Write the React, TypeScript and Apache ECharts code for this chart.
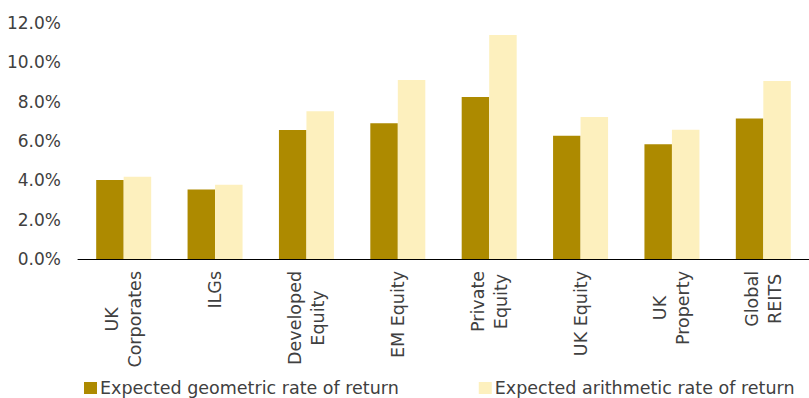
import React, { useEffect, useRef } from "react";
import * as echarts from "echarts";

const categories = [
  "UK\nCorporates",
  "ILGs",
  "Developed\nEquity",
  "EM Equity",
  "Private\nEquity",
  "UK Equity",
  "UK\nProperty",
  "Global\nREITS",
];
const geometricReturn = [4.02, 3.54, 6.56, 6.9, 8.24, 6.27, 5.83, 7.15];
const arithmeticReturn = [4.18, 3.78, 7.51, 9.1, 11.39, 7.22, 6.57, 9.05];
const seriesNames = ["Expected geometric rate of return", "Expected arithmetic rate of return"];
const yTicks = { min: 0, max: 12, interval: 2 };

const FONT = "'DejaVu Sans', 'Liberation Sans', Arial, sans-serif";
const TEXT = "#404040";

export default function App() {
  const ref = useRef<HTMLDivElement>(null);
  useEffect(() => {
    document.body.style.margin = "0";
    if (!ref.current) return;
    const chart = echarts.init(ref.current, null, { renderer: "svg" });
    chart.setOption({
      animation: false,
      grid: { left: 78, right: -6, top: 23, bottom: 139, containLabel: false },
      legend: {
        show: true,
        left: 84,
        top: 379,
        padding: 0,
        itemWidth: 13,
        itemHeight: 12,
        itemGap: 80,
        icon: "rect",
        textStyle: { fontFamily: FONT, fontSize: 17.5, color: TEXT, padding: [0, 0, 0, -2] },
        data: seriesNames,
      },
      xAxis: {
        type: "category",
        data: categories,
        axisLine: { show: true, lineStyle: { color: "#000", width: 1 } },
        axisTick: { show: false },
        axisLabel: {
          interval: 0,
          rotate: 90,
          margin: 12,
          fontFamily: FONT,
          fontSize: 17.5,
          color: TEXT,
          lineHeight: 23,
          formatter: (v: string) => v.split("\n").map((l) => `{c|${l}}`).join("\n"),
          rich: {
            c: { align: "center", fontFamily: FONT, fontSize: 17.5, color: TEXT, lineHeight: 23 },
          },
        },
      },
      yAxis: {
        type: "value",
        min: yTicks.min,
        max: yTicks.max,
        interval: yTicks.interval,
        axisLine: { show: false },
        axisTick: { show: false },
        splitLine: { show: false },
        axisLabel: {
          margin: 17,
          fontFamily: FONT,
          fontSize: 17,
          color: TEXT,
          formatter: (v: number) => v.toFixed(1) + "%",
        },
      },
      series: [
        {
          name: seriesNames[0],
          type: "bar",
          data: geometricReturn,
          barWidth: 27.5,
          barGap: "0%",
          itemStyle: { color: "#AD8A00" },
        },
        {
          name: seriesNames[1],
          type: "bar",
          data: arithmeticReturn,
          barWidth: 27.5,
          barGap: "0%",
          itemStyle: { color: "#FDF0BE" },
        },
      ],
    });
    return () => chart.dispose();
  }, []);
  return <div ref={ref} style={{ width: 809, height: 398 }} />;
}
